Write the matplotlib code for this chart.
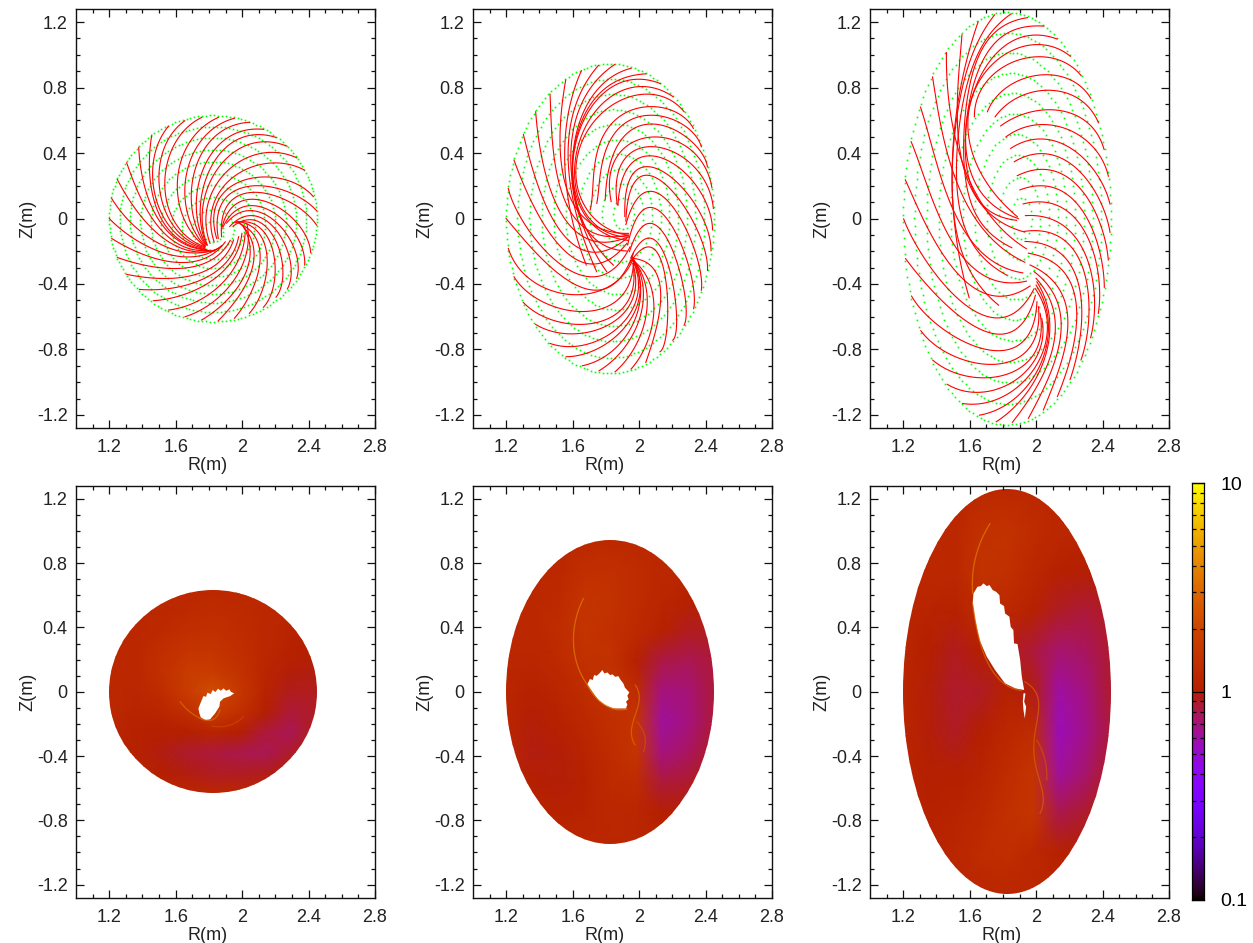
# -*- coding: utf-8 -*-
import numpy as np
import matplotlib
matplotlib.use("Agg")
import matplotlib.pyplot as plt
from matplotlib.colors import LinearSegmentedColormap, LogNorm
from matplotlib.patches import Ellipse, Polygon

plt.rcParams['font.family'] = ['Liberation Sans', 'DejaVu Sans']
plt.rcParams['axes.unicode_minus'] = False

W, H = 1253, 943

# axis ticks
x_major = [1.2, 1.6, 2.0, 2.4, 2.8]
x_labels = ['1.2', '1.6', '2', '2.4', '2.8']
y_major = [-1.2, -0.8, -0.4, 0, 0.4, 0.8, 1.2]
y_labels = ['-1.2', '-0.8', '-0.4', '0', '0.4', '0.8', '1.2']

# plasma boundary
r0 = 1.825
a_rim = 0.625
b_rim = [0.63, 0.945, 1.26]

# green flux surfaces
ring_rho = [1.0, 0.9, 0.8, 0.7, 0.6, 0.5, 0.4, 0.3, 0.2, 0.1]
ring_cr_1 = [1.825, 1.825, 1.825, 1.825, 1.825, 1.825, 1.825, 1.825, 1.825, 1.825]
ring_cz_1 = [0, -0.005, -0.01, -0.02, -0.03, -0.04, -0.05, -0.06, -0.07, -0.08]
ring_cr_2 = [1.825, 1.83, 1.84, 1.85, 1.86, 1.87, 1.88, 1.89, 1.90, 1.905]
ring_cz_2 = [0, 0, 0.005, 0.005, 0.01, 0.01, 0.015, 0.02, 0.025, 0.03]
ring_cr_3 = [1.825, 1.83, 1.84, 1.85, 1.86, 1.87, 1.88, 1.89, 1.90, 1.91]
ring_cz_3 = [0, 0, 0.005, 0.005, 0.01, 0.01, 0.01, 0.01, 0.0, 0.0]

# red lines, read off 3x crops of each panel: rim end first, (x, y) in the crop
# crop to data: R = r_off + x / 498, Z = z_off - y / 491
crop_1 = (1.084, 0.785)
lines_1 = [
    [(335, 82), (255, 160), (225, 290), (270, 420), (345, 470)],
    [(285, 92), (215, 190), (215, 310), (265, 430), (345, 472)],
    [(236, 108), (190, 210), (205, 340), (265, 440), (345, 475)],
    [(185, 135), (180, 240), (200, 360), (270, 450), (348, 478)],
    [(146, 172), (165, 290), (205, 390), (280, 460), (350, 480)],
    [(110, 218), (155, 330), (215, 420), (290, 475), (360, 480)],
    [(82, 268), (145, 370), (225, 445), (300, 485), (375, 480)],
    [(65, 325), (135, 410), (230, 470), (320, 490), (385, 475)],
    [(58, 385), (135, 450), (240, 490), (335, 500), (395, 465)],
    [(65, 445), (150, 490), (260, 515), (350, 505), (405, 455)],
    [(82, 502), (180, 530), (290, 530), (370, 510), (420, 450)],
    [(110, 553), (210, 565), (310, 555), (395, 510), (430, 450)],
    [(148, 598), (245, 595), (340, 565), (420, 505), (445, 440)],
    [(190, 632), (280, 615), (365, 570), (435, 500), (455, 430)],
    [(236, 660), (320, 635), (395, 580), (450, 500), (465, 430)],
    [(285, 680), (365, 640), (430, 570), (470, 490), (470, 400)],
    [(335, 690), (410, 630), (465, 555), (480, 480), (460, 410)],
    [(385, 692), (450, 610), (490, 530), (485, 455), (450, 400)],
    [(433, 685), (490, 590), (510, 500), (490, 430), (445, 400)],
    [(478, 670), (525, 570), (525, 470), (490, 410), (440, 395)],
    [(520, 652), (555, 545), (535, 450), (485, 395), (435, 400)],
    [(558, 622), (575, 515), (540, 425), (480, 385), (430, 410)],
    [(592, 597), (590, 480), (540, 400), (475, 375), (420, 410)],
    [(620, 565), (600, 450), (535, 380), (470, 360), (410, 400)],
    [(644, 525), (605, 420), (530, 355), (460, 350), (400, 410)],
    [(662, 487), (605, 385), (520, 330), (450, 335), (395, 420)],
    [(680, 405), (610, 345), (510, 305), (440, 320), (395, 440)],
    [(680, 362), (600, 310), (500, 285), (430, 305), (385, 445)],
    [(670, 320), (590, 270), (490, 265), (420, 290), (380, 445)],
    [(643, 240), (550, 220), (470, 235), (410, 280), (372, 455)],
    [(620, 203), (530, 190), (450, 210), (390, 270), (360, 460)],
    [(590, 168), (500, 160), (420, 190), (365, 270), (352, 465)],
    [(557, 142), (470, 140), (395, 180), (345, 280), (350, 465)],
    [(520, 118), (440, 130), (370, 180), (325, 290), (348, 465)],
    [(478, 97), (410, 115), (340, 180), (305, 300), (346, 465)],
    [(433, 85), (370, 115), (310, 190), (285, 320), (345, 468)],
    [(385, 82), (320, 130), (270, 220), (270, 350), (345, 470)],
]

crop_2 = (1.042, 1.029)
lines_2 = [
    [(540, 102), (470, 85), (380, 120), (300, 240), (283, 400), (340, 530), (445, 570)],
    [(578, 140), (500, 110), (410, 125), (320, 230), (285, 390), (350, 530), (445, 560)],
    [(612, 185), (530, 135), (430, 145), (335, 230), (285, 380), (360, 520), (445, 555)],
    [(497, 73), (420, 85), (340, 150), (285, 290), (285, 450), (370, 590), (440, 600)],
    [(453, 55), (380, 90), (305, 200), (280, 400), (320, 540), (400, 645)],
    [(405, 45), (340, 95), (285, 230), (280, 420), (380, 665)],
    [(356, 47), (300, 125), (268, 270), (285, 480), (350, 665)],
    [(306, 62), (265, 165), (260, 340), (275, 520), (320, 645)],
    [(640, 235), (570, 180), (480, 172), (395, 220), (345, 340), (330, 480)],
    [(664, 290), (590, 215), (480, 197), (400, 255), (365, 350), (350, 460)],
    [(682, 350), (615, 260), (490, 222), (410, 290), (385, 370), (375, 450)],
    [(695, 410), (635, 310), (500, 247), (420, 320), (393, 452)],
    [(700, 472), (650, 370), (510, 272), (430, 345), (412, 460)],
    [(698, 537), (650, 420), (520, 300), (440, 370), (415, 460)],
    [(694, 600), (640, 470), (530, 335), (450, 385), (437, 495)],
    [(683, 660), (630, 510), (530, 365), (460, 400), (440, 510)],
    [(664, 720), (625, 560), (530, 415), (470, 450), (440, 520)],
    [(641, 775), (610, 610), (530, 460), (475, 500), (445, 580)],
    [(612, 825), (590, 640), (520, 510), (475, 550), (450, 600)],
    [(578, 870), (575, 690), (515, 560), (470, 590), (455, 620)],
    [(540, 905), (560, 730), (520, 590), (465, 610), (452, 640)],
    [(497, 937), (540, 770), (515, 650), (460, 625)],
    [(453, 957), (520, 800), (505, 690), (458, 630)],
    [(405, 965), (490, 830), (495, 700), (456, 625)],
    [(357, 962), (460, 850), (490, 730), (455, 620)],
    [(307, 947), (420, 880), (480, 750), (455, 620)],
    [(258, 920), (380, 880), (470, 770), (455, 625)],
    [(210, 880), (330, 880), (450, 790), (457, 630)],
    [(167, 823), (300, 850), (420, 800), (458, 640)],
    [(130, 757), (260, 820), (395, 800), (460, 650)],
    [(102, 680), (240, 775), (380, 770), (460, 640)],
    [(85, 595), (210, 720), (350, 725), (460, 625)],
    [(78, 505), (200, 640), (340, 720), (460, 610)],
    [(85, 415), (185, 590), (330, 680), (450, 590)],
    [(102, 330), (190, 520), (320, 640), (440, 580)],
    [(130, 253), (195, 460), (310, 600), (440, 565)],
    [(167, 185), (205, 400), (310, 560), (445, 560)],
    [(210, 132), (225, 340), (310, 530), (445, 555)],
    [(257, 90), (240, 280), (300, 490), (445, 550)],
]

crop_3 = (1.060, 1.304)
lines_3 = [
    [(570, 153), (470, 120), (340, 170), (270, 310), (300, 500), (412, 635)],
    [(530, 103), (440, 90), (320, 180), (265, 330), (300, 560), (415, 640)],
    [(490, 65), (400, 72), (300, 180), (262, 350), (305, 600), (410, 645)],
    [(443, 40), (350, 70), (280, 210), (250, 400), (300, 650), (395, 727)],
    [(395, 28), (320, 90), (260, 270), (225, 480), (270, 700), (380, 810)],
    [(345, 30), (290, 110), (235, 330), (215, 600), (255, 760), (355, 900)],
    [(296, 50), (255, 170), (225, 400), (218, 620), (268, 878)],
    [(247, 88), (232, 220), (240, 400), (300, 600), (435, 680)],
    [(200, 142), (205, 300), (255, 480), (340, 650), (440, 730)],
    [(158, 215), (185, 380), (250, 570), (350, 720), (435, 770)],
    [(122, 305), (165, 470), (240, 640), (340, 780), (430, 800)],
    [(94, 408), (140, 550), (220, 700), (330, 830), (440, 825)],
    [(76, 522), (130, 650), (220, 780), (340, 880), (450, 840)],
    [(70, 640), (140, 770), (250, 890), (370, 945), (460, 850)],
    [(76, 760), (170, 870), (280, 960), (380, 990), (465, 870)],
    [(94, 873), (190, 970), (300, 1030), (400, 1030), (470, 890)],
    [(122, 977), (220, 1050), (320, 1080), (410, 1060), (475, 905)],
    [(158, 1066), (240, 1105), (340, 1120), (430, 1080), (480, 925)],
    [(202, 1138), (270, 1160), (360, 1150), (445, 1090), (485, 940)],
    [(248, 1195), (310, 1195), (400, 1155), (480, 1060), (465, 850)],
    [(298, 1230), (370, 1205), (450, 1130), (500, 1020), (468, 840)],
    [(348, 1250), (420, 1190), (480, 1090), (510, 980), (470, 830)],
    [(397, 1252), (460, 1160), (510, 1060), (525, 950), (468, 820)],
    [(445, 1240), (495, 1140), (535, 1030), (540, 920), (462, 800)],
    [(490, 1215), (530, 1110), (560, 1000), (555, 890), (450, 780)],
    [(532, 1175), (570, 1060), (590, 940), (560, 810), (445, 745)],
    [(570, 1124), (600, 990), (600, 860), (550, 750), (435, 710)],
    [(603, 1065), (625, 920), (610, 790), (540, 695), (432, 680)],
    [(632, 998), (640, 860), (610, 730), (530, 650), (437, 632)],
    [(655, 925), (650, 790), (610, 670), (530, 600), (430, 597)],
    [(673, 847), (655, 730), (610, 620), (530, 550), (420, 555)],
    [(685, 765), (660, 660), (610, 560), (530, 500), (412, 512)],
    [(690, 682), (660, 590), (600, 500), (520, 450), (403, 470)],
    [(690, 597), (650, 510), (590, 440), (510, 405), (392, 430)],
    [(685, 513), (640, 430), (575, 375), (490, 360), (378, 395)],
    [(672, 432), (625, 360), (560, 315), (470, 320), (362, 362)],
    [(655, 352), (610, 295), (540, 255), (450, 265), (345, 335)],
    [(632, 280), (590, 235), (520, 210), (420, 225), (322, 320)],
    [(603, 212), (560, 175), (480, 155), (380, 180), (283, 335)],
]

# bottom row, field strength read on a grid (u = (R-r0)/a, v = Z/b)
grid_u = [-1, -0.75, -0.5, -0.25, 0, 0.25, 0.5, 0.75, 1]
grid_v = [1, 0.8, 0.6, 0.4, 0.2, 0, -0.2, -0.4, -0.6, -0.8, -1]
field_1 = [[1.2, 1.2, 1.2, 1.2, 1.2, 1.2, 1.2, 1.2, 1.2],
           [1.2, 1.2, 1.2, 1.25, 1.3, 1.25, 1.2, 1.15, 1.15],
           [1.2, 1.2, 1.25, 1.35, 1.4, 1.3, 1.2, 1.1, 1.05],
           [1.2, 1.2, 1.35, 1.5, 1.5, 1.35, 1.2, 1.05, 1.0],
           [1.2, 1.2, 1.4, 1.7, 1.7, 1.45, 1.15, 0.98, 0.95],
           [1.2, 1.15, 1.3, 1.7, 2.2, 1.6, 1.1, 0.92, 0.92],
           [1.2, 1.1, 1.15, 1.35, 1.7, 1.4, 1.0, 0.85, 0.9],
           [1.15, 1.05, 1.0, 1.0, 1.1, 1.0, 0.85, 0.78, 0.95],
           [1.15, 1.05, 0.95, 0.88, 0.85, 0.8, 0.78, 0.88, 1.0],
           [1.15, 1.1, 1.0, 0.95, 0.9, 0.9, 0.92, 1.0, 1.05],
           [1.15, 1.15, 1.15, 1.15, 1.15, 1.15, 1.15, 1.15, 1.15]]
field_2 = [[1.2, 1.2, 1.2, 1.2, 1.2, 1.2, 1.2, 1.2, 1.2],
           [1.2, 1.2, 1.2, 1.35, 1.4, 1.3, 1.2, 1.15, 1.1],
           [1.2, 1.2, 1.25, 1.5, 1.45, 1.3, 1.15, 1.05, 1.0],
           [1.2, 1.2, 1.3, 1.5, 1.4, 1.25, 1.05, 0.92, 0.92],
           [1.15, 1.15, 1.25, 1.4, 1.45, 1.05, 0.82, 0.78, 0.85],
           [1.15, 1.05, 1.15, 1.3, 1.5, 1.3, 0.68, 0.7, 0.85],
           [1.15, 0.98, 1.05, 1.2, 1.35, 1.5, 0.62, 0.68, 0.85],
           [1.15, 0.95, 0.98, 1.1, 1.3, 1.5, 0.68, 0.75, 0.9],
           [1.15, 1.0, 0.98, 1.05, 1.25, 1.3, 0.85, 0.88, 1.0],
           [1.15, 1.1, 1.05, 1.1, 1.2, 1.15, 1.0, 1.0, 1.05],
           [1.15, 1.15, 1.15, 1.15, 1.15, 1.15, 1.15, 1.15, 1.15]]
field_3 = [[1.2, 1.2, 1.2, 1.2, 1.2, 1.2, 1.2, 1.2, 1.2],
           [1.2, 1.2, 1.2, 1.4, 1.45, 1.3, 1.2, 1.15, 1.1],
           [1.2, 1.2, 1.2, 1.45, 1.4, 1.2, 1.05, 1.0, 1.0],
           [1.15, 1.1, 1.05, 1.3, 1.2, 1.05, 0.9, 0.85, 0.92],
           [1.15, 1.0, 0.92, 1.0, 0.95, 0.85, 0.72, 0.75, 0.88],
           [1.15, 0.98, 0.88, 0.9, 1.05, 0.95, 0.6, 0.68, 0.88],
           [1.15, 0.98, 0.9, 1.0, 1.2, 1.3, 0.56, 0.66, 0.85],
           [1.15, 1.0, 1.0, 1.1, 1.3, 1.5, 0.62, 0.72, 0.92],
           [1.15, 1.05, 1.1, 1.2, 1.4, 1.5, 0.8, 0.88, 1.0],
           [1.15, 1.1, 1.15, 1.3, 1.35, 1.2, 1.05, 1.0, 1.05],
           [1.15, 1.15, 1.15, 1.15, 1.15, 1.15, 1.15, 1.15, 1.15]]

# white holes (R, Z)
hole_1 = [(1.743, -0.135), (1.737, -0.103), (1.757, -0.052), (1.767, -0.027), (1.783, -0.031),
          (1.791, -0.006), (1.811, -0.014), (1.823, 0.011), (1.839, -0.002), (1.855, 0.019),
          (1.872, 0.006), (1.888, 0.021), (1.904, 0.006), (1.924, 0.015), (1.932, 0.0),
          (1.952, -0.010), (1.928, -0.027), (1.888, -0.041), (1.867, -0.062), (1.863, -0.093),
          (1.837, -0.135), (1.807, -0.172), (1.777, -0.176), (1.751, -0.159)]
hole_2 = [(1.688, 0.046), (1.704, 0.079), (1.721, 0.073), (1.729, 0.104), (1.745, 0.099),
          (1.761, 0.114), (1.779, 0.135), (1.791, 0.114), (1.809, 0.120), (1.825, 0.104),
          (1.841, 0.108), (1.855, 0.093), (1.875, 0.097), (1.889, 0.073), (1.905, 0.052),
          (1.915, 0.025), (1.941, -0.004), (1.929, -0.025), (1.937, -0.046), (1.921, -0.062),
          (1.929, -0.079), (1.921, -0.104), (1.845, -0.104), (1.795, -0.083), (1.755, -0.052),
          (1.721, -0.004)]
hole_3 = [(1.623, 0.612), (1.647, 0.653), (1.667, 0.657), (1.683, 0.674), (1.703, 0.657),
          (1.719, 0.664), (1.739, 0.632), (1.759, 0.622), (1.779, 0.601), (1.783, 0.549),
          (1.807, 0.533), (1.813, 0.487), (1.839, 0.467), (1.847, 0.404), (1.863, 0.384),
          (1.867, 0.301), (1.888, 0.297), (1.904, 0.197), (1.914, 0.093), (1.928, 0.011),
          (1.874, 0.021), (1.813, 0.052), (1.753, 0.135), (1.703, 0.218), (1.659, 0.322),
          (1.633, 0.446), (1.618, 0.549)]
sliver_3 = [(1.924, -0.010), (1.936, -0.010), (1.928, -0.062), (1.940, -0.093), (1.932, -0.166),
            (1.924, -0.114), (1.920, -0.062)]

# bright streaks: value, then (R, Z) along the streak
streaks_1 = [(3.0, [(1.627, -0.062), (1.697, -0.134), (1.757, -0.170)]),
             (3.0, [(1.757, -0.170), (1.817, -0.176), (1.867, -0.114)]),
             (1.9, [(1.817, -0.213), (1.928, -0.207), (2.008, -0.155)])]
streaks_2 = [(3.5, [(1.665, 0.581), (1.621, 0.456), (1.604, 0.332), (1.629, 0.166), (1.689, 0.042)]),
             (3.5, [(1.689, 0.042), (1.745, -0.041), (1.825, -0.099), (1.926, -0.108)]),
             (3.0, [(1.976, 0.042), (2.002, -0.041), (1.982, -0.124), (1.956, -0.228), (1.976, -0.331)]),
             (2.2, [(1.986, -0.186), (2.036, -0.290), (2.026, -0.373)])]
streaks_3 = [(3.5, [(1.723, 1.047), (1.663, 0.923), (1.633, 0.829), (1.618, 0.715), (1.618, 0.612)]),
             (3.0, [(1.618, 0.549), (1.659, 0.301), (1.723, 0.176), (1.813, 0.035), (1.914, 0.011)]),
             (2.6, [(1.934, 0.062), (1.994, -0.010), (2.016, -0.114), (2.004, -0.238), (1.988, -0.383),
                    (1.988, -0.487), (2.034, -0.570), (2.048, -0.673), (2.020, -0.756)]),
             (2.2, [(2.004, -0.300), (2.048, -0.404), (2.064, -0.549)])]

# colorbar minor ticks
bar_minor = [0.2, 0.3, 0.4, 0.5, 0.6, 0.7, 0.8, 0.9, 2, 3, 4, 5, 6, 7, 8, 9]

# gnuplot traditional pm3d palette 7,5,15
g = np.linspace(0, 1, 512)
palette = np.clip(np.column_stack([np.sqrt(g), g ** 3, np.sin(2 * np.pi * g)]), 0, 1)
cmap = LinearSegmentedColormap.from_list('pm3d', palette, N=512)
norm = LogNorm(0.1, 10)


def add_panel(fig, left, top, right, bottom):
    ax = fig.add_axes([left / W, 1 - bottom / H, (right - left) / W, (bottom - top) / H])
    ax.set_xlim(1.0, 2.8)
    ax.set_ylim(-1.28, 1.28)
    ax.set_xticks(x_major)
    ax.set_xticklabels(x_labels)
    ax.set_yticks(y_major)
    ax.set_yticklabels(y_labels)
    ax.set_xticks(np.arange(1.1, 2.8, 0.1), minor=True)
    ax.set_yticks(np.arange(-1.2, 1.25, 0.1), minor=True)
    ax.tick_params(which='major', direction='in', top=True, right=True, length=5.8, width=0.9,
                   labelsize=13, colors='#111111', labelcolor='#222222')
    ax.tick_params(axis='x', which='major', pad=8)
    ax.tick_params(axis='y', which='major', pad=6)
    ax.tick_params(which='minor', direction='in', top=True, right=True, length=2.9, width=0.9,
                   colors='#111111')
    for s in ax.spines.values():
        s.set_linewidth(1.0)
        s.set_color('#111111')
    ax.set_xlabel('R(m)', fontsize=13, x=0.44, labelpad=1, color='#222222')
    ax.set_ylabel('Z(m)', fontsize=13, labelpad=0, color='#222222')
    return ax


def smooth(pts):
    # low order fit along the line, the hand read points are a bit noisy
    p = np.array(pts, dtype=float)
    s = np.r_[0, np.cumsum(np.hypot(*np.diff(p, axis=0).T))]
    s = s / s[-1]
    deg = min(len(p) - 1, 4 if len(p) > 5 else 3)
    t = np.linspace(0, 1, 80)
    return np.column_stack([np.polyval(np.polyfit(s, p[:, k], deg), t) for k in (0, 1)])


def top_panel(ax, b, ring_cr, ring_cz, lines, crop):
    for r, cr, cz in zip(ring_rho, ring_cr, ring_cz):
        n = int(165 * r)
        psi = np.linspace(0, 2 * np.pi, n, endpoint=False)
        ax.plot(cr + a_rim * r * np.cos(psi), cz + b * r * np.sin(psi),
                ls='none', marker='s', ms=1.2, mew=0, color='#00ff00')
    for pts in lines:
        xy = smooth(pts)
        ax.plot(crop[0] + xy[:, 0] / 498, crop[1] - xy[:, 1] / 491, color='#ff0000', lw=0.8)


def bottom_panel(ax, b, field, holes, streaks):
    rr = r0 + a_rim * np.array(grid_u)
    zz = b * np.array(grid_v)
    mesh = ax.pcolormesh(rr, zz, np.array(field), shading='gouraud', cmap=cmap, norm=norm)
    rim = Ellipse((r0, 0), 2 * a_rim, 2 * b, transform=ax.transData, fc='none', ec='none')
    ax.add_patch(rim)
    mesh.set_clip_path(rim)
    for val, pts in streaks:
        xy = smooth(pts)
        ax.plot(xy[:, 0], xy[:, 1], color=cmap(norm(val)), lw=0.9, alpha=0.8, solid_capstyle='round')
    for h in holes:
        ax.add_patch(Polygon(h, closed=True, fc='white', ec='none'))


fig = plt.figure(figsize=(W / 100, H / 100), dpi=100)

lefts = [76, 473, 870]
all_ring_cr = [ring_cr_1, ring_cr_2, ring_cr_3]
all_ring_cz = [ring_cz_1, ring_cz_2, ring_cz_3]
all_lines = [lines_1, lines_2, lines_3]
all_crops = [crop_1, crop_2, crop_3]
all_fields = [field_1, field_2, field_3]
all_holes = [[hole_1], [hole_2], [hole_3, sliver_3]]
all_streaks = [streaks_1, streaks_2, streaks_3]

for i, left in enumerate(lefts):
    ax = add_panel(fig, left, 9, left + 299, 428)
    top_panel(ax, b_rim[i], all_ring_cr[i], all_ring_cz[i], all_lines[i], all_crops[i])
    ax = add_panel(fig, left, 486, left + 299, 897.5)
    bottom_panel(ax, b_rim[i], all_fields[i], all_holes[i], all_streaks[i])

# colorbar
cax = fig.add_axes([1192 / W, 1 - 900 / H, 11.5 / W, (900 - 483) / H])
levels = np.logspace(-1, 1, 400)
cax.pcolormesh([0, 1], levels, levels[:-1, None], cmap=cmap, norm=norm, shading='flat')
cax.set_yscale('log')
cax.set_ylim(0.1, 10)
cax.set_xlim(0, 1)
cax.set_xticks([])
cax.set_yticks([0.1, 1, 10])
cax.set_yticklabels(['0.1', '1', '10'])
cax.set_yticks(bar_minor, minor=True)
cax.set_yticklabels([], minor=True)
cax.tick_params(which='major', direction='in', left=True, right=True, labelleft=False, labelright=True,
                length=4.2, width=0.9, labelsize=14, pad=12, labelcolor='black')
cax.tick_params(which='minor', direction='in', left=True, right=True, length=2.9, width=0.9)
for s in cax.spines.values():
    s.set_linewidth(0.9)

fig.savefig('out.png', dpi=100)
